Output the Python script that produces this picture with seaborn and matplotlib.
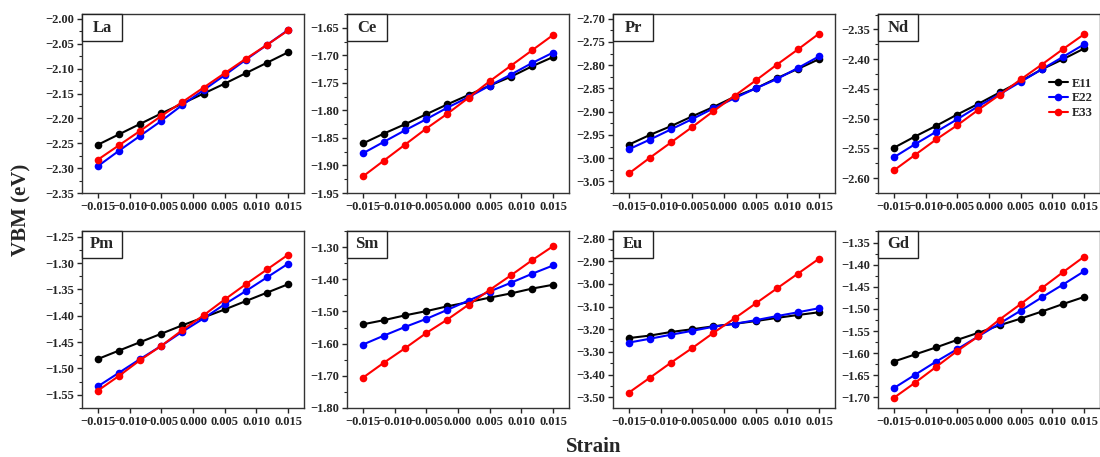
import numpy as np
import pandas as pd
import matplotlib
matplotlib.use("Agg")
import matplotlib.pyplot as plt
import seaborn as sns
from matplotlib.ticker import MultipleLocator, AutoMinorLocator, FuncFormatter
from matplotlib.patches import Rectangle

# ---------------- data ----------------
strain = [-0.015, -0.01167, -0.00833, -0.005, -0.00167, 0.00167, 0.005, 0.00833, 0.01167, 0.015]
series_names = ["E11", "E22", "E33"]
elements = ["La", "Ce", "Pr", "Nd", "Pm", "Sm", "Eu", "Gd"]

La_E11 = [-2.253, -2.232, -2.211, -2.190, -2.170, -2.150, -2.130, -2.109, -2.088, -2.067]
La_E22 = [-2.296, -2.265, -2.235, -2.205, -2.173, -2.143, -2.113, -2.082, -2.052, -2.022]
La_E33 = [-2.283, -2.254, -2.225, -2.195, -2.167, -2.138, -2.109, -2.080, -2.052, -2.023]

Ce_E11 = [-1.860, -1.842, -1.825, -1.807, -1.789, -1.772, -1.755, -1.739, -1.720, -1.703]
Ce_E22 = [-1.878, -1.857, -1.836, -1.816, -1.795, -1.776, -1.755, -1.735, -1.714, -1.695]
Ce_E33 = [-1.920, -1.891, -1.862, -1.833, -1.806, -1.777, -1.747, -1.719, -1.691, -1.663]

Pr_E11 = [-2.971, -2.950, -2.931, -2.910, -2.890, -2.868, -2.850, -2.828, -2.808, -2.787]
Pr_E22 = [-2.981, -2.960, -2.938, -2.916, -2.893, -2.871, -2.850, -2.830, -2.806, -2.781]
Pr_E33 = [-3.033, -2.999, -2.966, -2.933, -2.899, -2.866, -2.833, -2.799, -2.766, -2.732]

Nd_E11 = [-2.549, -2.530, -2.512, -2.493, -2.475, -2.456, -2.437, -2.417, -2.400, -2.382]
Nd_E22 = [-2.565, -2.543, -2.522, -2.501, -2.479, -2.459, -2.438, -2.417, -2.396, -2.375]
Nd_E33 = [-2.587, -2.561, -2.535, -2.511, -2.485, -2.460, -2.434, -2.409, -2.383, -2.358]

Pm_E11 = [-1.482, -1.466, -1.450, -1.434, -1.418, -1.403, -1.388, -1.372, -1.356, -1.340]
Pm_E22 = [-1.534, -1.508, -1.482, -1.457, -1.430, -1.405, -1.378, -1.353, -1.327, -1.301]
Pm_E33 = [-1.542, -1.514, -1.484, -1.457, -1.427, -1.399, -1.369, -1.340, -1.312, -1.284]

Sm_E11 = [-1.540, -1.527, -1.512, -1.499, -1.484, -1.471, -1.457, -1.444, -1.429, -1.417]
Sm_E22 = [-1.603, -1.575, -1.548, -1.523, -1.495, -1.466, -1.438, -1.411, -1.383, -1.357]
Sm_E33 = [-1.706, -1.659, -1.614, -1.567, -1.525, -1.479, -1.433, -1.388, -1.341, -1.297]

Eu_E11 = [-3.239, -3.228, -3.212, -3.200, -3.187, -3.176, -3.164, -3.150, -3.137, -3.125]
Eu_E22 = [-3.259, -3.242, -3.224, -3.207, -3.189, -3.176, -3.160, -3.142, -3.125, -3.107]
Eu_E33 = [-3.480, -3.414, -3.347, -3.283, -3.216, -3.152, -3.086, -3.020, -2.954, -2.888]

Gd_E11 = [-1.619, -1.603, -1.587, -1.570, -1.554, -1.537, -1.522, -1.506, -1.489, -1.473]
Gd_E22 = [-1.679, -1.649, -1.619, -1.591, -1.562, -1.533, -1.504, -1.474, -1.445, -1.415]
Gd_E33 = [-1.701, -1.667, -1.631, -1.595, -1.562, -1.524, -1.489, -1.453, -1.417, -1.382]

values = {
    "La": (La_E11, La_E22, La_E33), "Ce": (Ce_E11, Ce_E22, Ce_E33),
    "Pr": (Pr_E11, Pr_E22, Pr_E33), "Nd": (Nd_E11, Nd_E22, Nd_E33),
    "Pm": (Pm_E11, Pm_E22, Pm_E33), "Sm": (Sm_E11, Sm_E22, Sm_E33),
    "Eu": (Eu_E11, Eu_E22, Eu_E33), "Gd": (Gd_E11, Gd_E22, Gd_E33),
}

# axis settings per panel: (ymin, ymax, major step)
ylims = {
    "La": (-2.35, -1.99, 0.05), "Ce": (-1.95, -1.625, 0.05),
    "Pr": (-3.075, -2.69, 0.05), "Nd": (-2.625, -2.324, 0.05),
    "Pm": (-1.575, -1.239, 0.05), "Sm": (-1.80, -1.25, 0.10),
    "Eu": (-3.548, -2.766, 0.10), "Gd": (-1.724, -1.324, 0.05),
}
x_ticks = [-0.015, -0.010, -0.005, 0.000, 0.005, 0.010, 0.015]

palette = {"E11": "#000000", "E22": "#0000ff", "E33": "#ff0000"}

# ---------------- style ----------------
sns.set_style("ticks")
plt.rcParams["font.family"] = ["Liberation Serif", "DejaVu Serif"]
plt.rcParams["font.weight"] = "bold"
plt.rcParams["axes.unicode_minus"] = True

fig = plt.figure(figsize=(11, 4.57), dpi=100)

lefts = [82, 347, 613, 878]
rows = [(14, 193), (231, 408)]
W, H = 1100, 457
aw = 222

def minus_fmt(dec):
    def f(v, pos):
        s = f"{v:.{dec}f}"
        if s.startswith("-"):
            if float(s) == 0:
                s = s[1:]
            else:
                s = "\u2212" + s[1:]
        return s
    return FuncFormatter(f)

for i, el in enumerate(elements):
    r, c = divmod(i, 4)
    top, bot = rows[r]
    ax = fig.add_axes([lefts[c] / W, 1 - bot / H, aw / W, (bot - top) / H])
    e11, e22, e33 = values[el]
    df = pd.DataFrame({
        "Strain": strain * 3,
        "VBM": e11 + e22 + e33,
        "series": [s for s in series_names for _ in strain],
    })
    sns.lineplot(data=df, x="Strain", y="VBM", hue="series", palette=palette,
                 marker="o", markersize=5.5, markeredgewidth=0, linewidth=1.5,
                 ax=ax, legend=(el == "Nd"))
    ymin, ymax, step = ylims[el]
    ax.set_xlim(-0.0175, 0.0175)
    ax.set_ylim(ymin, ymax)
    ax.xaxis.set_major_locator(plt.FixedLocator(x_ticks))
    ax.xaxis.set_major_formatter(minus_fmt(3))
    ax.yaxis.set_major_locator(MultipleLocator(step))
    ax.yaxis.set_minor_locator(AutoMinorLocator(2))
    ax.yaxis.set_major_formatter(minus_fmt(2))
    ax.set_xlabel("")
    ax.set_ylabel("")
    ax.tick_params(axis="both", which="major", labelsize=9, length=3.5, width=1,
                   direction="out", pad=2)
    ax.tick_params(axis="y", which="minor", length=2, width=0.8)
    for lab in ax.get_xticklabels() + ax.get_yticklabels():
        lab.set_fontweight("bold")
    for sp in ax.spines.values():
        sp.set_visible(True)
        sp.set_linewidth(1.0)
        sp.set_color("#333333")
    # panel label box
    bw, bh = 40 / aw, 27 / (bot - top)
    ax.add_patch(Rectangle((0, 1 - bh), bw, bh, transform=ax.transAxes,
                           facecolor="white", edgecolor="#222222", lw=1.0,
                           zorder=5, clip_on=False))
    ax.text(bw / 2, 1 - bh / 2, el, transform=ax.transAxes, ha="center",
            va="center", fontsize=12, fontweight="bold", zorder=6)
    if el == "Nd":
        leg = ax.legend(loc="upper left", bbox_to_anchor=(0.77, 0.645),
                        frameon=False, fontsize=9, handlelength=1.5,
                        handletextpad=0.3, labelspacing=0.22,
                        borderpad=0, borderaxespad=0, title=None)
        for t in leg.get_texts():
            t.set_fontweight("bold")

fig.text(21 / W, 1 - 210 / H, "VBM (eV)", rotation=90, ha="center", va="center",
         fontsize=15, fontweight="bold")
fig.text(594 / W, 1 - 447 / H, "Strain", ha="center", va="center",
         fontsize=15, fontweight="bold")

fig.savefig("out.png", dpi=100, facecolor="white")
